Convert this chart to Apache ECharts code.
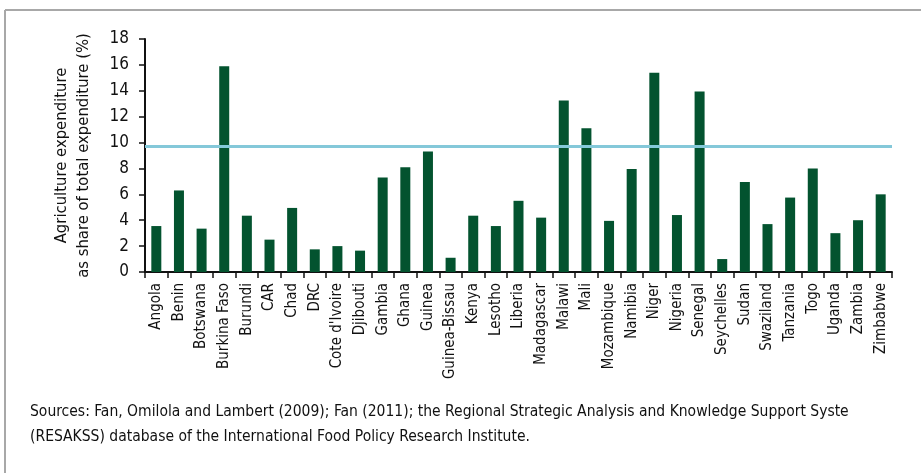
<!DOCTYPE html>
<html>
<head>
<meta charset="utf-8">
<script src="https://cdn.jsdelivr.net/npm/echarts@6/dist/echarts.min.js"></script>
<style>
html,body{margin:0;padding:0;background:#fff;}
#c{width:921px;height:473px;}
</style>
</head>
<body>
<div id="c"></div>
<script>
const categories = ["Angola","Benin","Botswana","Burkina Faso","Burundi","CAR","Chad","DRC","Cote d'Ivoire","Djibouti","Gambia","Ghana","Guinea","Guinea-Bissau","Kenya","Lesotho","Liberia","Madagascar","Malawi","Mali","Mozambique","Namibia","Niger","Nigeria","Senegal","Seychelles","Sudan","Swaziland","Tanzania","Togo","Uganda","Zambia","Zimbabwe"];
const values = [3.55,6.3,3.35,15.9,4.35,2.5,4.95,1.75,2.0,1.65,7.3,8.1,9.3,1.1,4.35,3.55,5.5,4.2,13.25,11.1,3.95,7.95,15.4,4.4,13.95,1.0,6.95,3.7,5.75,8.0,3.0,4.0,6.0];
const targetLevel = 9.75;
const yTicks = [0,2,4,6,8,10,12,14,16,18];
const yAxisTitle = ["Agriculture expenditure","as share of total expenditure (%)"];
const sourceLines = ["Sources: Fan, Omilola and Lambert (2009); Fan (2011); the Regional Strategic Analysis and Knowledge Support Syste","(RESAKSS) database of the International Food Policy Research Institute."];

const FONT = "'Liberation Sans Narrow','DejaVu Sans Condensed',sans-serif";
const chart = echarts.init(document.getElementById('c'), null, {renderer:'canvas'});
chart.setOption({
  animation:false,
  backgroundColor:'#fff',
  grid:{left:145,right:29,top:39,bottom:201,containLabel:false},
  xAxis:{
    type:'category',
    data:categories,
    boundaryGap:true,
    axisLine:{lineStyle:{color:'#111',width:2}},
    axisTick:{show:true,length:6,alignWithLabel:false,lineStyle:{color:'#111',width:1.5}},
    axisLabel:{rotate:90,interval:0,color:'#111',fontSize:15,fontFamily:FONT,margin:11}
  },
  yAxis:{
    type:'value',
    min:yTicks[0],max:yTicks[yTicks.length-1],interval:2,
    splitLine:{show:false},
    axisLine:{show:true,lineStyle:{color:'#111',width:2}},
    axisTick:{show:true,length:6,lineStyle:{color:'#111',width:1.5}},
    axisLabel:{color:'#111',fontSize:17,fontFamily:FONT,margin:16},
    name:yAxisTitle.join('\n'),
    nameLocation:'middle',
    nameGap:50,
    nameRotate:90,
    nameTextStyle:{color:'#111',fontSize:16.5,fontFamily:FONT,lineHeight:22}
  },
  series:[{
    type:'bar',
    data:values,
    barWidth:10,
    itemStyle:{color:'#03532f'},
    markLine:{
      silent:true,
      symbol:['none','none'],
      label:{show:false},
      lineStyle:{color:'#84c8d9',width:3,type:'solid'},
      data:[{yAxis:targetLevel}]
    }
  }],
  graphic:[
    {type:'line',shape:{x1:5,y1:10,x2:921,y2:10},style:{stroke:'#a8a8a8',lineWidth:2}},
    {type:'line',shape:{x1:5,y1:10,x2:5,y2:473},style:{stroke:'#a8a8a8',lineWidth:2}},
    {type:'text',left:30,top:404,style:{text:sourceLines[0],fontSize:15.5,fontFamily:FONT,fill:'#111'}},
    {type:'text',left:30,top:429,style:{text:sourceLines[1],fontSize:15.5,fontFamily:FONT,fill:'#111'}}
  ]
});
</script>
</body>
</html>
